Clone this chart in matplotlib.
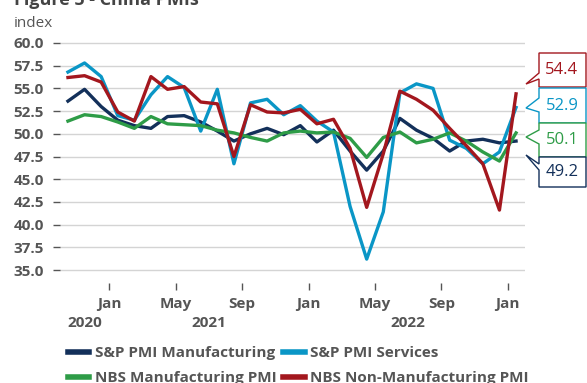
import numpy as np
import pandas as pd
import matplotlib.pyplot as plt
from matplotlib.patches import Polygon

plt.rcParams['font.family'] = ['Open Sans', 'DejaVu Sans']

# monthly data, Oct 2020 .. Jan 2023
months = pd.period_range('2020-10', '2023-01', freq='M')
sp_mfg = [53.6, 54.9, 53.0, 51.5, 50.9, 50.6, 51.9, 52.0, 51.3, 50.3, 49.2, 50.0, 50.6, 49.9,
          50.9, 49.1, 50.4, 48.1, 46.0, 48.1, 51.7, 50.4, 49.5, 48.1, 49.2, 49.4, 49.0, 49.2]
sp_srv = [56.8, 57.8, 56.3, 52.0, 51.5, 54.3, 56.3, 55.1, 50.3, 54.9, 46.7, 53.4, 53.8, 52.1,
          53.1, 51.4, 50.2, 42.0, 36.2, 41.4, 54.5, 55.5, 55.0, 49.3, 48.4, 46.7, 48.0, 52.9]
nbs_mfg = [51.4, 52.1, 51.9, 51.3, 50.6, 51.9, 51.1, 51.0, 50.9, 50.4, 50.1, 49.6, 49.2, 50.1,
           50.3, 50.1, 50.2, 49.5, 47.4, 49.6, 50.2, 49.0, 49.4, 50.1, 49.2, 48.0, 47.0, 50.1]
nbs_non = [56.2, 56.4, 55.7, 52.4, 51.4, 56.3, 54.9, 55.2, 53.5, 53.3, 47.5, 53.2, 52.4, 52.3,
           52.7, 51.1, 51.6, 48.4, 41.9, 47.8, 54.7, 53.8, 52.6, 50.6, 48.7, 46.7, 41.6, 54.4]

names = ['S&P PMI Manufacturing', 'S&P PMI Services',
         'NBS Manufacturing PMI', 'NBS Non-Manufacturing PMI']
colors = ['#13305a', '#0a96c6', '#2e9c47', '#a3171e']
year_labels = ['2020', '2021', '2022']
gray = '#555555'

W, H = 587, 383
fig = plt.figure(figsize=(W / 100, H / 100), dpi=100)


def fx(px):
    return px / W


def fy(py):
    return 1 - py / H


ax = fig.add_axes([fx(60), fy(283), fx(525) - fx(60), fy(41) - fy(283)])
x = np.arange(len(months))
all_series = [sp_mfg, sp_srv, nbs_mfg, nbs_non]
for vals, name, c in zip(all_series, names, colors):
    ax.plot(x, vals, color=c, lw=2.4, label=name)

ax.set_xlim(-0.48, 27.54)
ax.set_ylim(33.57, 60.22)
ax.set_yticks(np.arange(35, 60.1, 2.5))
ax.set_yticklabels(['%.1f' % v for v in np.arange(35, 60.1, 2.5)])
ax.grid(axis='y', color='#d4d4d4', lw=1)
ax.set_axisbelow(True)
for s in ax.spines.values():
    s.set_visible(False)

# ticks at the start of Jan / May / Sep
tick_pos = [i - 0.5 for i, m in enumerate(months) if m.month in (1, 5, 9)]
tick_lab = [m.strftime('%b') for m in months if m.month in (1, 5, 9)]
ax.set_xticks(tick_pos)
ax.set_xticklabels(tick_lab)
ax.tick_params(axis='y', length=5, width=1, color=gray, pad=6.5, labelsize=11, labelcolor=gray)
ax.tick_params(axis='x', length=5, width=1, color=gray, pad=5, labelsize=11, labelcolor=gray)
for lbl in ax.get_xticklabels() + ax.get_yticklabels():
    lbl.set_fontweight('bold')

# year labels centred on each year's months
for yl in year_labels:
    idx = [i for i, m in enumerate(months) if str(m.year) == yl]
    ax.text(np.mean(idx), (283 - 323) / 242, yl, transform=ax.get_xaxis_transform(),
            ha='center', va='center', fontsize=11, fontweight='bold', color=gray)

fig.text(fx(14), fy(5), 'Figure 5 - China PMIs', fontsize=13, fontweight='bold',
         color='#444444', va='baseline')
fig.text(fx(14), fy(27), 'index', fontsize=11, color=gray, va='baseline')

# legend: two rows, filled row by row
handles, labels = ax.get_legend_handles_labels()
sel = [0, 2, 1, 3]
leg = fig.legend([handles[i] for i in sel], [labels[i] for i in sel], loc='upper left',
                 bbox_to_anchor=(fx(68), fy(346)), ncol=2, frameon=False,
                 handlelength=1.4, handletextpad=0.35, columnspacing=0.45,
                 labelspacing=0.75, borderpad=0, borderaxespad=0,
                 labelcolor=gray, prop={'weight': 'bold', 'size': 11})
for lh in leg.get_lines():
    lh.set_linewidth(4)

# value callouts on the right
boxes = [(53, 87, 73, 84, 79), (88, 123, 98, 108, 112),
         (123, 157, 130, 137, 144), (157, 187, 164, 155, 170)]
order = [3, 1, 2, 0]
for (top, bot, s1, tip, s2), k in zip(boxes, order):
    pts = [(539, top), (586, top), (586, bot), (539, bot), (539, s2), (526, tip), (539, s1)]
    poly = Polygon([(fx(a), fy(b)) for a, b in pts], closed=True, transform=fig.transFigure,
                   facecolor='white', edgecolor=colors[k], lw=1)
    fig.patches.append(poly)
    fig.text(fx(562), fy((top + bot) / 2), '%.1f' % all_series[k][-1], ha='center',
             va='center', fontsize=12, color=colors[k])

fig.savefig('out.png', dpi=100)
